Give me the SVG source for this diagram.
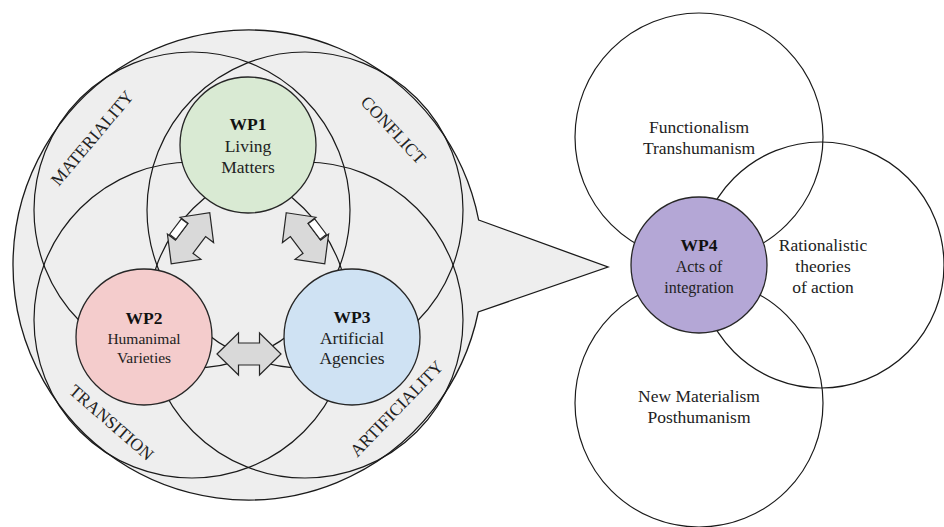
<svg xmlns="http://www.w3.org/2000/svg" width="944" height="527" viewBox="0 0 944 527">
<style>
.ring{fill:none;stroke:#1a1a1a;stroke-width:1.2}
.wp{stroke:#262626;stroke-width:1.3}
.t{font-family:"Liberation Serif","Times New Roman",serif;font-size:17.5px;fill:#222;text-anchor:middle}
.s16{font-size:16px}
.s155{font-size:15.5px}
.b{font-weight:bold;fill:#111}
.lab{font-family:"Liberation Serif","Times New Roman",serif;font-size:17.5px;fill:#222;text-anchor:middle}
.arr{fill:#d9d9d9;stroke:#262626;stroke-width:1.2;stroke-linejoin:miter}
.gap{fill:#ffffff;stroke:#262626;stroke-width:1.1}
</style>
<defs>
<path id="dbl" d="M-32,0 L-10.5,-21 L-10.5,-11 L10.5,-11 L10.5,-21 L32,0 L10.5,21 L10.5,11 L-10.5,11 L-10.5,21 Z"/>
</defs>
<rect width="944" height="527" fill="#ffffff"/>

<g id="bubble">
<path d="M478.65,220 L608,267 L478.25,312 A235,235 0 1 1 478.65,220 Z" fill="#eeeeee" stroke="#1a1a1a" stroke-width="1.3"/>
</g>

<g id="materiality">
<circle class="ring" cx="192" cy="210" r="158"/>
<text class="lab" transform="translate(96.6,141.9) rotate(-50)">MATERIALITY</text>
</g>
<g id="conflict">
<circle class="ring" cx="305" cy="210" r="158"/>
<text class="lab" transform="translate(389,134) rotate(47)">CONFLICT</text>
</g>
<g id="transition">
<circle class="ring" cx="192" cy="320" r="158"/>
<text class="lab" transform="translate(107.6,427) rotate(41)">TRANSITION</text>
</g>
<g id="artificiality">
<circle class="ring" cx="305" cy="320" r="158"/>
<text class="lab" transform="translate(400.8,412.7) rotate(-46)">ARTIFICIALITY</text>
</g>

<g id="connectors">
<g transform="translate(190.5,238.3) rotate(-53)">
<use href="#dbl" class="arr"/>
<rect class="gap" x="-9.5" y="-19" width="19.5" height="8"/>
</g>
<g transform="translate(305.5,238.3) rotate(53)">
<use href="#dbl" class="arr"/>
<rect class="gap" x="-10" y="-19" width="19.5" height="8"/>
</g>
<g transform="translate(249,354)">
<use href="#dbl" class="arr"/>
</g>
</g>

<g id="wp1">
<circle class="wp" cx="248" cy="145" r="68" fill="#d9ead3"/>
<text class="t b" x="248" y="130">WP1</text>
<text class="t" x="248" y="152">Living</text>
<text class="t" x="248" y="173">Matters</text>
</g>
<g id="wp2">
<circle class="wp" cx="144" cy="337" r="68" fill="#f4cccc"/>
<text class="t b" x="144" y="324">WP2</text>
<text class="t s155" x="144" y="344">Humanimal</text>
<text class="t s155" x="144" y="363">Varieties</text>
</g>
<g id="wp3">
<circle class="wp" cx="352" cy="337" r="68" fill="#cfe2f3"/>
<text class="t b" x="352" y="323">WP3</text>
<text class="t" x="352" y="344">Artificial</text>
<text class="t" x="352" y="364">Agencies</text>
</g>

<g id="functionalism">
<circle class="ring" cx="699" cy="137" r="124"/>
<text class="t" x="699" y="133">Functionalism</text>
<text class="t" x="699" y="154">Transhumanism</text>
</g>
<g id="rationalistic">
<circle class="ring" cx="821" cy="265" r="123"/>
<text class="t" x="823" y="251">Rationalistic</text>
<text class="t" x="823" y="272">theories</text>
<text class="t" x="823" y="293">of action</text>
</g>
<g id="newmaterialism">
<circle class="ring" cx="699" cy="403" r="124"/>
<text class="t" x="699" y="402">New Materialism</text>
<text class="t" x="699" y="423">Posthumanism</text>
</g>
<g id="wp4">
<circle class="wp" cx="699" cy="265" r="68" fill="#b4a7d6"/>
<text class="t b" x="699" y="251">WP4</text>
<text class="t s16" x="699" y="272">Acts of</text>
<text class="t s16" x="699" y="293">integration</text>
</g>
</svg>
